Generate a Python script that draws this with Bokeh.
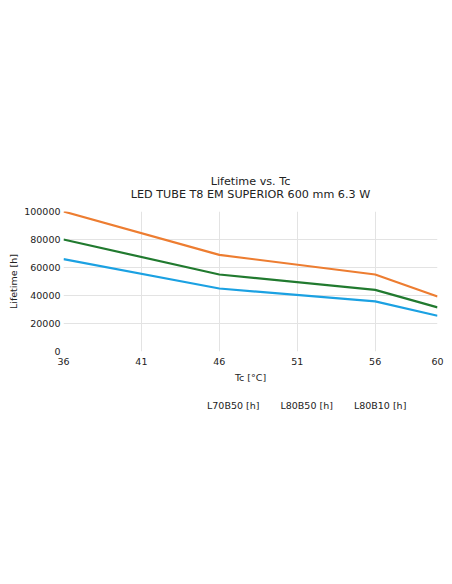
from bokeh.plotting import figure
from bokeh.layouts import column
from bokeh.models import Range1d, FixedTicker, Title, Legend, LegendItem
from bokeh.embed import file_html
from bokeh.resources import INLINE

tc = [36, 46, 56, 60]
l70b50 = [100000, 69000, 55000, 39300]
l80b50 = [80000, 55000, 44000, 31500]
l80b10 = [66000, 45000, 35800, 25500]
series = ["L70B50 [h]", "L80B50 [h]", "L80B10 [h]"]
colors = ["#ED7D31", "#217A2F", "#1BA1E2"]
x_ticks = [36, 41, 46, 51, 56, 60]

FONT = "DejaVu Sans"

p = figure(width=446, height=385, output_backend="svg", toolbar_location=None,
           x_range=Range1d(36, 60), y_range=Range1d(0, 100000),
           min_border_left=63, min_border_right=9, min_border_top=211,
           min_border_bottom=34)
p.outline_line_color = None

p.add_layout(Title(text="Lifetime vs. Tc\nLED TUBE T8 EM SUPERIOR 600 mm 6.3 W",
                   align="center", text_align="center",
                   text_font=FONT, text_font_size="11.2px",
                   text_font_style="normal", text_color="#222222",
                   text_line_height=1.0, standoff=21), "above")

for ys, c in zip([l70b50, l80b50, l80b10], colors):
    p.line(tc, ys, line_color=c, line_width=2.2)

p.xaxis.ticker = FixedTicker(ticks=x_ticks)
p.yaxis.ticker = FixedTicker(ticks=[0, 20000, 40000, 60000, 80000, 100000])
for ax in (p.xaxis[0], p.yaxis[0]):
    ax.axis_line_color = None
    ax.major_tick_line_color = None
    ax.minor_tick_line_color = None
    ax.major_tick_out = 0
    ax.major_tick_in = 0
    ax.major_label_text_font = FONT
    ax.major_label_text_font_size = "9.5px"
    ax.major_label_text_color = "#222222"
    ax.axis_label_text_font = FONT
    ax.axis_label_text_font_size = "9.5px"
    ax.axis_label_text_font_style = "normal"
    ax.axis_label_text_color = "#222222"
p.xaxis.axis_label = "Tc [°C]"
p.yaxis.axis_label = "Lifetime [h]"
p.xaxis.major_label_standoff = 6
p.yaxis.major_label_standoff = 3
p.xaxis.axis_label_standoff = 4
p.yaxis.axis_label_standoff = 2
p.yaxis.formatter.use_scientific = False

p.grid.grid_line_color = "#e3e3e3"
p.grid.grid_line_width = 1

# legend strip below the chart
leg = figure(width=446, height=36, output_backend="svg", toolbar_location=None,
             x_axis_location=None, y_axis_location=None,
             min_border=0)
leg.outline_line_color = None
leg.grid.visible = False
items = []
for name, c in zip(series, colors):
    r = leg.line([], [], line_color=c, line_width=2.2)
    items.append(LegendItem(label=name, renderers=[r]))

legend = Legend(items=items, orientation="horizontal", location=(123, 10),
                label_text_font=FONT, label_text_font_size="9.5px",
                label_text_color="#222222", glyph_width=20, glyph_height=12,
                label_height=12, spacing=0, label_standoff=1,
                border_line_color=None, padding=2, margin=0,
                background_fill_alpha=0)
leg.add_layout(legend, "center")

layout = column(p, leg, spacing=0)
open("out.html", "w").write(file_html(layout, INLINE))
